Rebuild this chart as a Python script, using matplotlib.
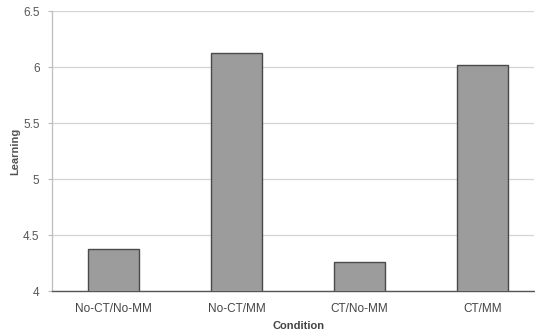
import matplotlib
matplotlib.use("Agg")
import matplotlib.pyplot as plt

conditions = ["No-CT/No-MM", "No-CT/MM", "CT/No-MM", "CT/MM"]
learning = [4.375, 6.125, 4.26, 6.02]
yticks = [4, 4.5, 5, 5.5, 6, 6.5]
ytick_labels = ["4", "4.5", "5", "5.5", "6", "6.5"]

plt.rcParams["font.family"] = ["Liberation Sans", "DejaVu Sans"]

W, H = 535, 332
fig = plt.figure(figsize=(W / 100, H / 100), dpi=100)
ax = fig.add_axes([52 / W, 41 / H, (534 - 52) / W, 280 / H])

x = list(range(len(conditions)))
ax.bar(x, learning, width=0.41, bottom=0, color="#9c9c9c",
       edgecolor="#4a4a4a", linewidth=1.0, zorder=3)

ax.set_ylim(4, 6.5)
ax.set_xlim(-0.5, 3.42)
ax.set_yticks(yticks)
ax.set_yticklabels(ytick_labels)
ax.set_xticks(x)
ax.set_xticklabels(conditions)

ax.yaxis.grid(True, color="#d4d4d4", linewidth=0.9, zorder=0)
ax.set_axisbelow(True)

for side in ["top", "right"]:
    ax.spines[side].set_visible(False)
ax.spines["left"].set_color("#bdbdbd")
ax.spines["left"].set_linewidth(0.9)
ax.spines["bottom"].set_color("#555555")
ax.spines["bottom"].set_linewidth(1.0)

ax.tick_params(axis="y", length=3, color="#bdbdbd", labelsize=8.5, labelcolor="#555555", pad=6)
ax.tick_params(axis="x", length=0, labelsize=8.5, labelcolor="#444444", pad=9)

# Axis titles placed in figure pixels
fig.text(15 / W, 1 - 151 / H, "Learning", rotation=90, ha="center", va="center",
         fontsize=8, fontweight="bold", color="#555555")
fig.text(299 / W, 1 - 326 / H, "Condition", ha="center", va="center",
         fontsize=8, fontweight="bold", color="#444444")

fig.savefig("out.png", dpi=100)
